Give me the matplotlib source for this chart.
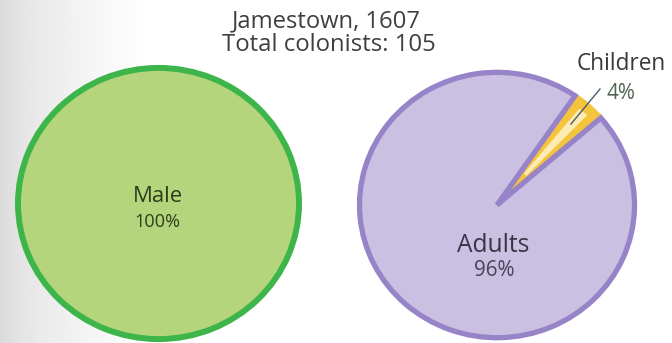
import matplotlib
matplotlib.use("Agg")
import matplotlib.pyplot as plt
import numpy as np
from matplotlib.patches import Wedge

# Data
title_lines = ["Jamestown, 1607", "Total colonists: 105"]
gender_labels = ["Male"]
gender_values = [100]
age_labels = ["Children", "Adults"]
age_values = [4, 96]

W, H = 672, 343
SY = 0.965  # vertical squash of the original graphic
fig = plt.figure(figsize=(6.72, 3.43), dpi=100)
ax = fig.add_axes([0, 0, 1, 1])


def Y(py):
    return (H - py) / SY


font = ["Open Sans", "DejaVu Sans"]
renderer = fig.canvas.get_renderer()


def fit_text(x, py, s, width_px, color, zorder=6, k=0.91):
    t = ax.text(x, Y(py), s, ha="center", va="center", fontsize=12,
                family=font, color=color, zorder=zorder)
    w = t.get_window_extent(renderer).width
    t.set_fontsize(12 * k * width_px / w)
    return t


# background gradient (light gray on left fading to white)
xs = np.linspace(0, 1, 400)
vals = 0.85 + 0.15 * np.clip(xs * W / 150, 0, 1) ** 0.6
img = np.tile(vals, (10, 1))
ax.imshow(img, extent=[0, W, 0, H / SY], cmap="gray", vmin=0, vmax=1,
          aspect="auto", zorder=0)

# left pie
ax.pie(gender_values, center=(158.5, Y(203.5)), radius=140.5,
       colors=["#b4d57c"],
       wedgeprops=dict(edgecolor="#3db54a", linewidth=4.3),
       frame=True)

# right pie
cx, cy, r = 497, Y(205), 137.5
w2, _ = ax.pie(age_values, center=(cx, cy), radius=r,
               colors=["#f4c43c", "#c9c0e2"], startangle=41,
               counterclock=True, frame=True)
w2[0].set_edgecolor("#f4c43c")
w2[0].set_linewidth(3.5)
w2[0].set_zorder(2)
w2[1].set_edgecolor("#9683c8")
w2[1].set_linewidth(3.8)
w2[1].set_zorder(3)
mid = 41 + 360 * age_values[0] / 200
hl = Wedge((cx, cy), r - 8, mid - 2.3, mid + 2.3, width=r - 50,
           facecolor="#fdf0c0", edgecolor="none", zorder=2.6, alpha=0.9)
ax.add_patch(hl)

# labels
fit_text(157.5, 196, gender_labels[0], 55, "#2c3f1c")
fit_text(157.5, 222, f"{gender_values[0]}%", 51, "#2c3f1c")
fit_text(493.5, 245, age_labels[1], 79, "#3a3448")
fit_text(494.5, 271, f"{age_values[1]}%", 45, "#4a4458")
fit_text(621, 64, age_labels[0], 98, "#3a3a3a")
fit_text(621, 94, f"{age_values[0]}%", 32, "#4f6352")
ax.plot([600, 571], [Y(89), Y(124)], color="#4a5a70", lw=1.0, zorder=5)

# title
fit_text(326, 21, title_lines[0], 206, "#3f3f3f")
fit_text(328.5, 45, title_lines[1], 233, "#3f3f3f")

ax.set_xlim(0, W)
ax.set_ylim(0, H / SY)
ax.set_aspect("auto")
ax.axis("off")
fig.savefig("out.png", dpi=100)
